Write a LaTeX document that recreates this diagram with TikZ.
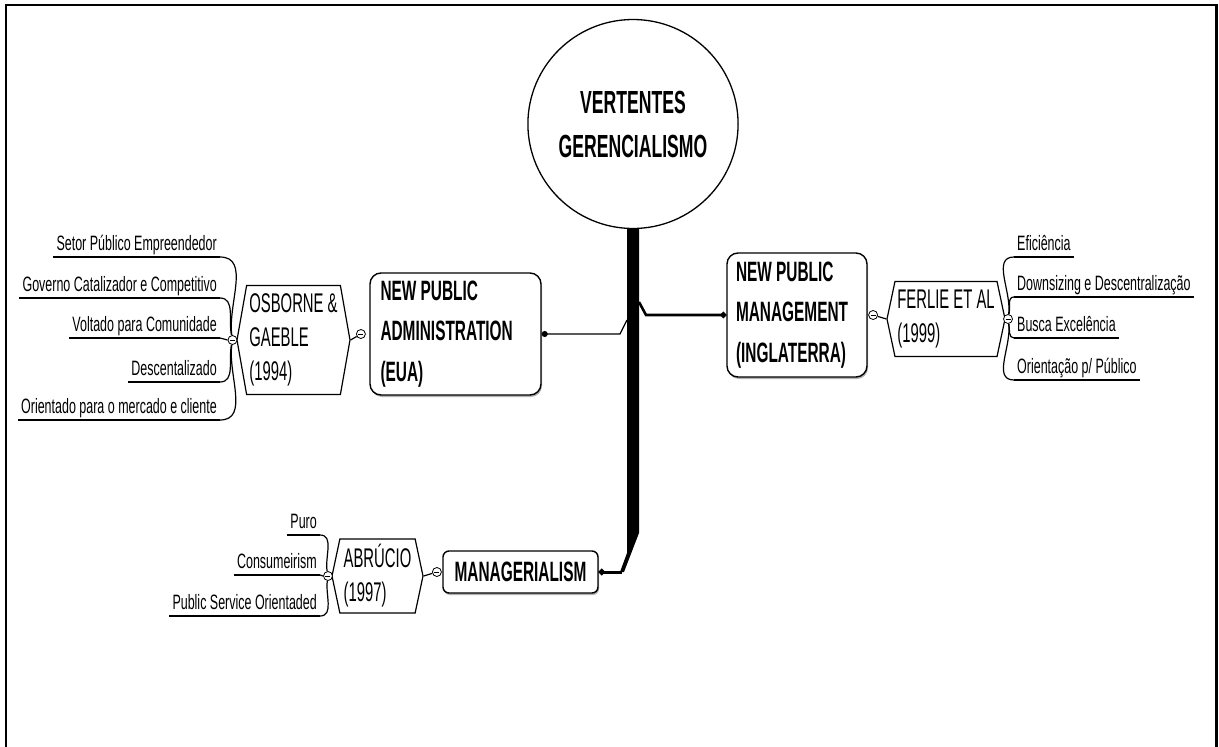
\documentclass[tikz,border=0pt]{standalone}
\usepackage{fontspec}
\setmainfont{Liberation Sans}
\newfontfamily\condfont{Liberation Sans}[FakeStretch=0.55]
\newfontfamily\narrowfont{Liberation Sans}[FakeStretch=0.6]
\newcommand\topicfont{\condfont\bfseries\fontsize{28}{40.5}\selectfont}
\newcommand\centerfont{\condfont\bfseries\fontsize{32}{44}\selectfont}
\newcommand\sourcefont{\condfont\fontsize{27}{34}\selectfont}
\newcommand\leaffont{\narrowfont\fontsize{20.8}{24}\selectfont}
\usetikzlibrary{positioning,shapes.geometric,shapes.symbols,shadows,arrows.meta}

\begin{document}
\begin{tikzpicture}[x=1pt, y=1pt,
  topic/.style={draw, line width=1.4pt, rounded corners=11pt, fill=white, align=flush left, font=\topicfont, inner xsep=9pt, drop shadow={shadow xshift=1pt, shadow yshift=-2pt, fill=black!30, opacity=1}},
  source/.style={draw, line width=1.2pt, signal, signal to=east and west, signal pointer angle=156, fill=white, align=flush left, font=\sourcefont, inner sep=2pt},
  leaf/.style={font=\leaffont, inner xsep=3pt, inner ysep=2pt, text depth=4pt},
  minus/.style={circle, draw, fill=white, line width=.8pt, minimum size=9pt, inner sep=0pt, path picture={\draw[line width=.8pt] ([xshift=2pt]path picture bounding box.west) -- ([xshift=-2pt]path picture bounding box.east);}},
  link/.style={line width=1.2pt},
  uline/.style={line width=2pt},
  dot/.style={-{Circle[length=6pt]}}]
\useasboundingbox (0,0) rectangle (1219,-747);
\draw[line width=2.6pt] (6,-750) -- (6,-5) -- (1216.5,-5) -- (1216.5,-750);

% central topic and trunk
\node[ellipse, draw, line width=1.3pt, fill=white, minimum width=169pt, minimum height=209pt, inner sep=0pt, align=center, font=\centerfont] (root) at (633,-124) {VERTENTES\\GERENCIALISMO};
\fill (627,-228) -- (639,-228) -- (639,-533) -- (624,-572) -- (620,-572) -- (627,-553) -- cycle;
\coordinate (tL) at (627,-320);
\coordinate (tR) at (639,-302);
\coordinate (tB) at (622,-572);

% main topics
\node[topic, text width=150pt, minimum width=171pt, minimum height=122pt] (npa) at (455.5,-334) {NEW PUBLIC\\ADMINISTRATION\\(EUA)};
\node[topic, text width=122pt, minimum width=140pt, minimum height=124pt] (npm) at (797,-315) {NEW PUBLIC\\MANAGEMENT\\(INGLATERRA)};
\node[topic, rounded corners=6pt, minimum width=155pt, minimum height=42pt] (mgr) at (520.5,-572) {MANAGERIALISM};

% authors
\node[source, minimum width=113pt, minimum height=109pt, signal pointer angle=160] (osb) at (293.5,-340) {OSBORNE \&\\GAEBLE\\(1994)};
\node[source, minimum width=118pt, minimum height=75pt] (fer) at (946,-319) {FERLIE ET AL\\(1999)};
\node[source, minimum width=91pt, minimum height=74pt] (abr) at (377.5,-576) {ABRÚCIO\\(1997)};

\draw[link, dot] (tL) -- ++(-7,-14) -- (npa.east);
\draw[line width=2.6pt, dot] (tR) -- ++(7,-13) -- (npm.west);
\draw[line width=3pt, dot] (tB) -- (mgr.east);

\node[minus, left=3.5pt of npa] (npaM) {};
\node[minus, right=0.5pt of npm] (npmM) {};
\node[minus, left=0.5pt of mgr] (mgrM) {};
\draw[link] (npaM) -- (osb.east);
\draw[link] (npmM) -- (fer.west);
\draw[link] (mgrM) -- (abr.east);
\node[minus, left=-1pt of osb] (osbM) {};
\node[minus, right=-2.5pt of fer] (ferM) {};
\node[minus, left=-1.5pt of abr] (abrM) {};

% leaves
\foreach \nm/\y/\a/\txt in {o1/257/98/Setor Público Empreendedor, o2/298/102/Governo Catalizador e Competitivo, o3/338/180/Voltado para Comunidade, o4/382/258/Descentalizado, o5/420/262/Orientado para o mercado e cliente}{
  \node[leaf, anchor=south east] (\nm) at (220,-\y) {\txt};
  \draw[link] (osbM) to[out=\a, in=0] (\nm.south east);
  \draw[uline] (\nm.south east) -- (\nm.south west);
}
\foreach \nm/\y/\a/\txt in {f1/257/82/Eficiência, f2/297/78/Downsizing e Descentralização, f3/338/280/Busca Excelência, f4/380/278/{Orientação p/ Público}}{
  \node[leaf, anchor=south west] (\nm) at (1014,-\y) {\txt};
  \draw[link] (ferM) to[out=\a, in=180] (\nm.south west);
  \draw[uline] (\nm.south west) -- (\nm.south east);
}
\foreach \nm/\y/\a/\txt in {a1/535/100/Puro, a2/575/180/Consumeirism, a3/616/262/Public Service Orientaded}{
  \node[leaf, anchor=south east] (\nm) at (320,-\y) {\txt};
  \draw[link] (abrM) to[out=\a, in=0] (\nm.south east);
  \draw[uline] (\nm.south east) -- (\nm.south west);
}
\end{tikzpicture}
\end{document}
